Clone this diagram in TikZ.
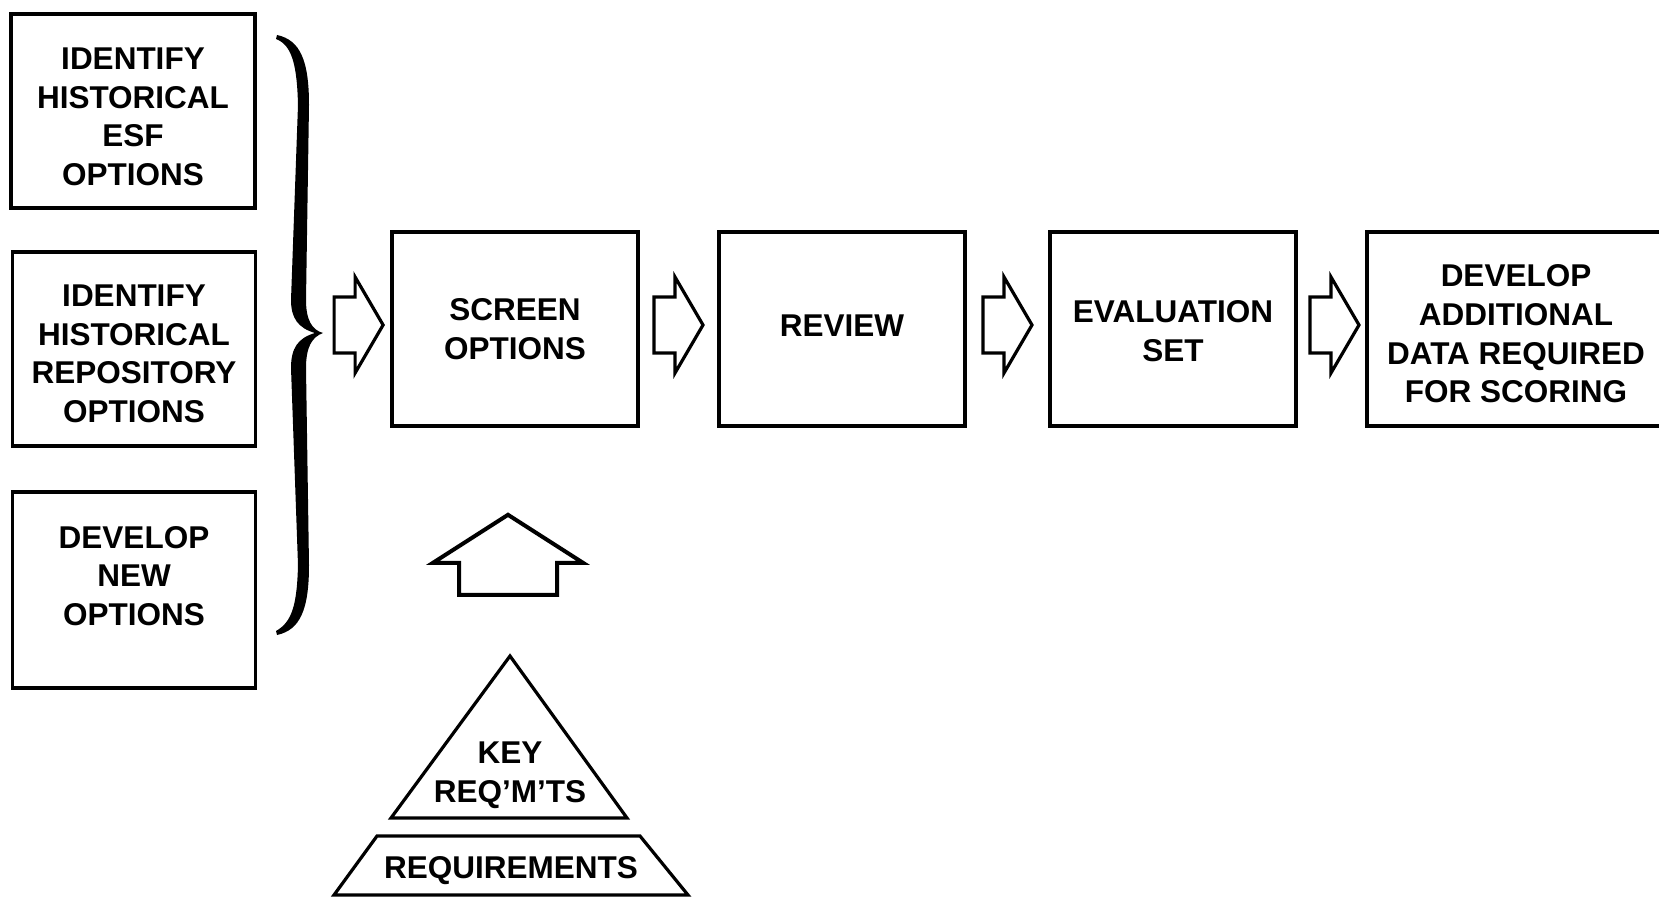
\documentclass[tikz,border=0pt]{standalone}
\usepackage{fontspec}
\setmainfont{Liberation Sans}
\usetikzlibrary{calc}
\tikzset{
  lbl/.style={align=center, inner sep=0pt, font=\bfseries\fontsize{15.75}{19.3}\selectfont},
  box/.style={draw, line width=1.8pt, minimum width=121.5pt, minimum height=97pt, inner sep=0pt},
  rarrow/.pic={\draw[line width=1.6pt, line join=miter]
     (-24.5,-28) -- (-3.5,-28) -- (-3.5,-48) -- (24.5,0) -- (-3.5,48) -- (-3.5,28) -- (-24.5,28) -- cycle;},
  uarrow/.pic={\draw[line width=2pt, line join=miter]
     (-49,40) -- (49,40) -- (49,8) -- (75,8) -- (0,-40) -- (-75,8) -- (-49,8) -- cycle;},
  outline/.style={draw, line width=1.6pt, line join=miter}
}
\begin{document}
\begin{tikzpicture}[x=0.5pt, y=-0.5pt]
\useasboundingbox (0,0) rectangle (1659,897);
% left column
\node[box, minimum width=122pt] (b1) at (133,111) {};
\node[lbl] (t1) at ($(b1.center)+(0,6)$) {IDENTIFY\\HISTORICAL\\ESF\\OPTIONS};
\node[box] (b2) at (134,349) {};
\node[lbl] (t2) at ($(b2.center)+(0,5)$) {IDENTIFY\\HISTORICAL\\REPOSITORY\\OPTIONS};
\node[box, minimum height=98pt] (b3) at (134,590) {};
\node[lbl] (t3) at ($(b3.center)+(0,-14)$) {DEVELOP\\NEW\\OPTIONS};
% brace
\coordinate (bt) at (323,333);
\fill (277,35) .. controls (300,40) and (309,60) .. (309,105) -- (306,300)
   .. controls (306,320) and (312,330) .. (bt)
   .. controls (312,337) and (306,347) .. (306,368) -- (309,565)
   .. controls (309,610) and (300,630) .. (277,635)
   -- (276,631) .. controls (292,622) and (297,605) .. (298,565) -- (291,368)
   .. controls (291,348) and (298,338) .. (315,333)
   .. controls (298,328) and (291,318) .. (291,300) -- (298,105)
   .. controls (297,65) and (292,45) .. (276,39) -- cycle;
% main row
\node[box, minimum width=123pt] (scr) at (515,329) {};
\node[lbl] (tscr) at (scr.center) {SCREEN\\OPTIONS};
\node[box, minimum width=123pt] (rev) at (842,329) {};
\node[lbl] (trev) at ($(rev.center)+(0,-3)$) {REVIEW};
\node[box, minimum width=123pt] (eva) at (1173,329) {};
\node[lbl] (teva) at ($(eva.center)+(0,2)$) {EVALUATION\\SET};
\node[box, minimum width=149pt] (dev) at (1516,329) {};
\node[lbl] (tdev) at ($(dev.center)+(0,5)$) {DEVELOP\\ADDITIONAL\\DATA REQUIRED\\FOR SCORING};
% block arrows
\pic at ($(bt)!0.5!(scr.west)+(2,-6)$) {rarrow};
\pic at ($(scr.east)!0.5!(rev.west)+(0,-4)$) {rarrow};
\pic at ($(rev.east)!0.5!(eva.west)+(0,-4)$) {rarrow};
\pic at ($(eva.east)!0.5!(dev.west)+(3,-4)$) {rarrow};
\pic at ($(scr.south)+(-7,127)$) {uarrow};
% pyramid
\draw[outline] (510,656) -- (627,818) -- (391,818) -- cycle;
\node[lbl] (key) at (510,775) {KEY\\REQ'M'TS};
\draw[outline] (334,895) -- (377,836) -- (640,836) -- (688,895) -- cycle;
\node[lbl] (req) at (511,871) {REQUIREMENTS};
\end{tikzpicture}
\end{document}
